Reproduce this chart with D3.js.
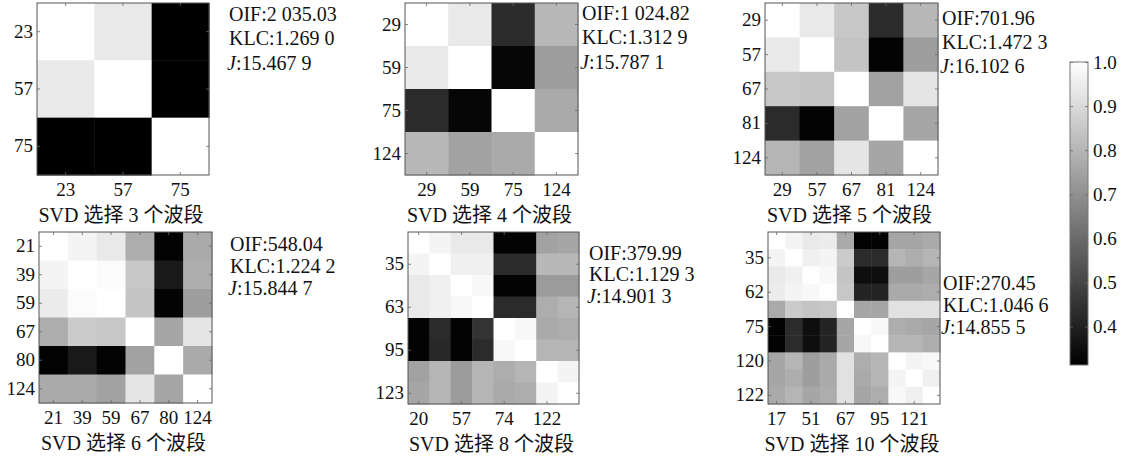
<!DOCTYPE html>
<html><head><meta charset="utf-8">
<script src="https://cdn.jsdelivr.net/npm/d3@7"></script>
<style>
body{margin:0;background:#fff}
svg{display:block}
text{font-family:"Liberation Serif","Times New Roman","Noto Sans CJK SC",serif;fill:#111}
</style>
</head><body>
<svg id="chart" width="1131" height="458"></svg>
<script>
// ---------------- DATA ----------------
const bands3 = ["23","57","75"];
const corr3 = [
  [1.00,0.94,0.31],
  [0.94,1.00,0.31],
  [0.31,0.31,1.00]];
const bands4 = ["29","59","75","124"];
const corr4 = [
  [1.00,0.94,0.43,0.81],
  [0.94,1.00,0.33,0.74],
  [0.43,0.33,1.00,0.77],
  [0.81,0.75,0.77,1.00]];
const bands5 = ["29","57","67","81","124"];
const corr5 = [
  [1.00,0.94,0.85,0.43,0.81],
  [0.94,1.00,0.84,0.32,0.74],
  [0.85,0.84,1.00,0.75,0.93],
  [0.43,0.32,0.75,1.00,0.76],
  [0.80,0.75,0.93,0.76,1.00]];
const bands6 = ["21","39","59","67","80","124"];
const corr6 = [
  [1.00,0.97,0.94,0.78,0.32,0.77],
  [0.97,1.00,0.99,0.85,0.38,0.78],
  [0.95,0.99,1.00,0.84,0.32,0.74],
  [0.78,0.86,0.85,1.00,0.76,0.93],
  [0.32,0.38,0.32,0.75,1.00,0.77],
  [0.77,0.77,0.75,0.93,0.76,1.00]];
const bands8 = ["20","35","57","63","74","95","122","123"];
const corr8 = [
  [1.00,0.97,0.94,0.94,0.32,0.32,0.75,0.76],
  [0.97,1.00,0.96,0.96,0.43,0.43,0.81,0.81],
  [0.94,0.96,1.00,0.98,0.32,0.32,0.73,0.73],
  [0.94,0.96,0.98,1.00,0.43,0.43,0.78,0.80],
  [0.32,0.43,0.32,0.45,1.00,0.98,0.77,0.78],
  [0.32,0.42,0.32,0.43,0.98,1.00,0.80,0.80],
  [0.75,0.80,0.73,0.80,0.78,0.80,1.00,0.97],
  [0.76,0.80,0.73,0.80,0.77,0.78,0.97,1.00]];
const bands10 = ["17","35","51","62","67","75","95","120","121","122"];
const corr10 = [
  [1.00,0.97,0.94,0.95,0.77,0.32,0.32,0.76,0.76,0.77],
  [0.97,1.00,0.96,0.97,0.86,0.43,0.43,0.80,0.78,0.80],
  [0.94,0.96,1.00,0.98,0.84,0.35,0.35,0.74,0.74,0.76],
  [0.95,0.97,0.98,1.00,0.85,0.41,0.41,0.77,0.77,0.78],
  [0.77,0.86,0.84,0.85,1.00,0.76,0.76,0.92,0.92,0.92],
  [0.32,0.43,0.35,0.41,0.76,1.00,0.98,0.78,0.77,0.76],
  [0.32,0.43,0.35,0.41,0.76,0.98,1.00,0.80,0.80,0.78],
  [0.76,0.80,0.74,0.77,0.92,0.78,0.80,1.00,0.97,0.98],
  [0.76,0.78,0.74,0.77,0.92,0.77,0.80,0.97,1.00,0.96],
  [0.77,0.80,0.76,0.78,0.92,0.76,0.78,0.98,0.96,1.00]];

const xTicks = [bands3, bands4, bands5, bands6, ["20","57","74","122"], ["17","51","67","95","121"]];
const yTicks = [bands3, bands4, bands5, bands6, ["35","63","95","123"], ["35","62","75","120","122"]];
const bandCounts = ["3","4","5","6","8","10"];
const oifValues = ["2 035.03","1 024.82","701.96","548.04","379.99","270.45"];
const klcValues = ["1.269 0","1.312 9","1.472 3","1.224 2","1.129 3","1.046 6"];
const jValues = ["15.467 9","15.787 1","16.102 6","15.844 7","14.901 3","14.855 5"];
const colorbarTicks = [0.4,0.5,0.6,0.7,0.8,0.9,1.0];
const colorDomain = [0.313, 1.0];

// ---------------- LAYOUT ----------------
const layout = [
  {x:37,  y:3,   w:172, h:172, tx:229, ty:[20.5,44.5,69.5]},
  {x:405, y:3,   w:173, h:172, tx:582, ty:[20,44,68.5]},
  {x:765, y:3,   w:173, h:172, tx:942, ty:[25,49,73]},
  {x:39,  y:232, w:173, h:171, tx:230, ty:[251,273,295]},
  {x:408, y:232, w:171, h:172, tx:589, ty:[260,281,303]},
  {x:768, y:232, w:172, h:172, tx:943, ty:[290,312,334]}
];
const bandsList = [bands3,bands4,bands5,bands6,bands8,bands10];
const corrList = [corr3,corr4,corr5,corr6,corr8,corr10];
const FS = 19, FSA = 20;

const svg = d3.select("#chart");
const color = d3.scaleLinear().domain(colorDomain).range(["#000","#fff"]).clamp(true);

function styleAxis(g){
  g.select(".domain").remove();
  g.selectAll("line").attr("stroke","#666").attr("stroke-width",0.8);
  g.selectAll("text").attr("font-size",FS).attr("font-family",null).attr("fill","#111");
  g.attr("font-family",null).attr("font-size",null);
}

layout.forEach((L,i)=>{
  const bands = bandsList[i], M = corrList[i];
  const x = d3.scaleBand().domain(bands).range([0,L.w]);
  const y = d3.scaleBand().domain(bands).range([0,L.h]);
  const g = svg.append("g").attr("transform",`translate(${L.x},${L.y})`);
  const cells = [];
  M.forEach((row,r)=>row.forEach((v,c)=>cells.push({r:bands[r],c:bands[c],v})));
  g.selectAll("rect.cell").data(cells).join("rect")
    .attr("class","cell")
    .attr("x",d=>x(d.c)).attr("y",d=>y(d.r))
    .attr("width",x.bandwidth()+0.5).attr("height",y.bandwidth()+0.5)
    .attr("fill",d=>color(d.v));
  g.append("rect").attr("width",L.w).attr("height",L.h)
    .attr("fill","none").attr("stroke","#555").attr("stroke-width",1);
  // axes
  g.append("g").call(d3.axisLeft(y).tickValues(yTicks[i]).tickSize(-3).tickPadding(4)).call(styleAxis);
  g.append("g").attr("transform",`translate(${L.w},0)`)
    .call(d3.axisRight(y).tickValues(yTicks[i]).tickSize(-3).tickFormat("")).call(styleAxis);
  g.append("g").attr("transform",`translate(0,${L.h})`)
    .call(d3.axisBottom(x).tickValues(xTicks[i]).tickSize(-3).tickPadding(7.5)).call(styleAxis);
  g.append("g")
    .call(d3.axisTop(x).tickValues(xTicks[i]).tickSize(-3).tickFormat("")).call(styleAxis);
  // title
  svg.append("text").attr("x",L.x+L.w/2-2).attr("y",L.y+L.h+47)
    .attr("text-anchor","middle").attr("font-size",20)
    .text(`SVD 选择 ${bandCounts[i]} 个波段`);
  // metrics
  const t = svg.append("g").attr("font-size",FSA);
  t.append("text").attr("x",L.tx).attr("y",L.ty[0]).text(`OIF:${oifValues[i]}`);
  t.append("text").attr("x",L.tx).attr("y",L.ty[1]).text(`KLC:${klcValues[i]}`);
  const jt = t.append("text").attr("x",L.tx-2).attr("y",L.ty[2]);
  jt.append("tspan").attr("font-style","italic").text("J");
  jt.append("tspan").text(`:${jValues[i]}`);
});

// ---------------- COLORBAR ----------------
const cb = {x:1070, y:62, w:18, h:303};
const cy = d3.scaleLinear().domain(colorDomain).range([cb.y+cb.h, cb.y]);
const defs = svg.append("defs");
const grad = defs.append("linearGradient").attr("id","cbgrad")
  .attr("x1","0").attr("y1","1").attr("x2","0").attr("y2","0");
d3.range(0,1.0001,0.1).forEach(t=>{
  const v = colorDomain[0]+t*(colorDomain[1]-colorDomain[0]);
  grad.append("stop").attr("offset",t).attr("stop-color",color(v));
});
svg.append("rect").attr("x",cb.x).attr("y",cb.y).attr("width",cb.w).attr("height",cb.h)
  .attr("fill","url(#cbgrad)").attr("stroke","#777").attr("stroke-width",1);
svg.append("g").attr("transform",`translate(${cb.x+cb.w},0)`)
  .call(d3.axisRight(cy).tickValues(colorbarTicks).tickFormat(d3.format(".1f")).tickSize(-3).tickPadding(5))
  .call(styleAxis);
svg.append("g").attr("transform",`translate(${cb.x},0)`)
  .call(d3.axisLeft(cy).tickValues(colorbarTicks).tickFormat("").tickSize(-3))
  .call(styleAxis);
</script>
</body></html>
